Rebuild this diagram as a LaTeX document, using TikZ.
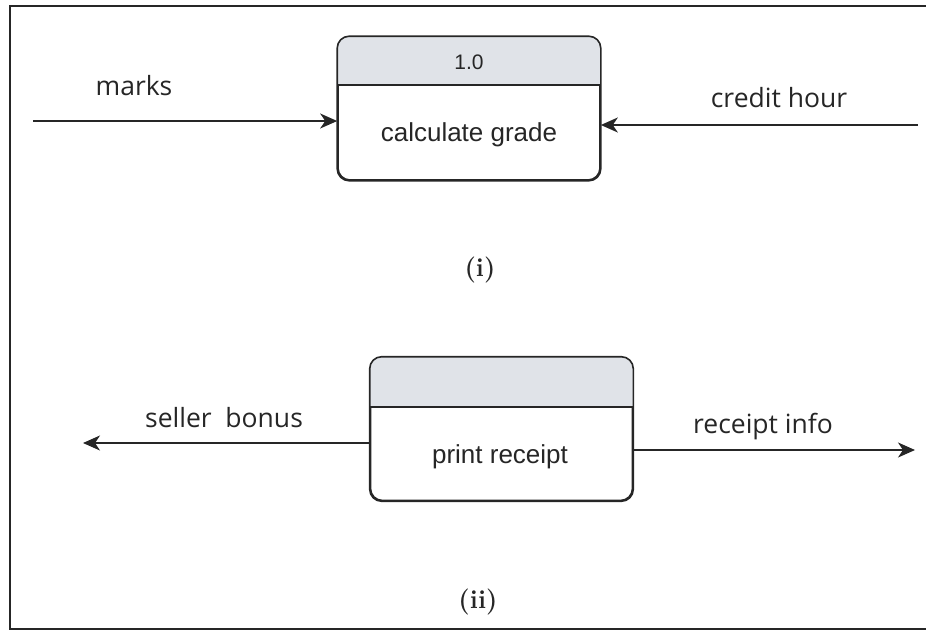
\documentclass[tikz,border=0pt]{standalone}
\usepackage{fontspec}
\setmainfont{Latin Modern Roman}
\newfontfamily\boxfont{Liberation Sans}
\newfontfamily\labfont{Open Sans}
\usetikzlibrary{arrows.meta}
\definecolor{headgray}{HTML}{E0E3E8}
\definecolor{inkc}{HTML}{262626}
\tikzset{
  procbox/.style={draw=inkc, line width=1.6pt, rounded corners=12pt, fill=white,
    minimum width=262pt, minimum height=143pt, inner sep=0pt},
  boxtext/.style={font=\boxfont\fontsize{26}{31}\selectfont, text=inkc, inner sep=0pt},
  numtext/.style={font=\boxfont\fontsize{21}{25}\selectfont, text=inkc, inner sep=0pt},
  labtext/.style={font=\labfont\fontsize{26.5}{31}\selectfont, text=inkc, inner sep=0pt},
  captext/.style={font=\bfseries\fontsize{26}{30}\selectfont, text=inkc, inner sep=0pt},
  flow/.style={draw=inkc, line width=1.6pt, -{Stealth[length=17pt, width=15pt, inset=5pt]}},
  framel/.style={draw=inkc, line width=1.8pt}
}
\begin{document}
\begin{tikzpicture}[x=1pt, y=-1pt]
\useasboundingbox (0,0) rectangle (926,632);
% outer frame (right side cut off)
\coordinate (ftr) at (926,6);
\coordinate (ftl) at (10,6);
\coordinate (fbl) at (10,629);
\coordinate (fbr) at (926,629);
\draw[framel] (ftr) -- (ftl) -- (fbl) -- (fbr);

% process 1.0
\node[procbox] (p1) at (469,108.5) {};
\coordinate (p1div) at (469,85);
\begin{scope}
  \clip[rounded corners=12pt] (p1.south west) rectangle (p1.north east);
  \fill[headgray] (p1.north west) rectangle (p1.east |- p1div);
\end{scope}
\draw[inkc, line width=1.6pt] (p1.west |- p1div) -- (p1.east |- p1div);
\draw[inkc, line width=1.6pt, rounded corners=12pt] (p1.south west) rectangle (p1.north east);
\node[numtext] (n1) at (469,62) {1.0};
\node[boxtext] (t1) at (469,135) {calculate grade};

% flows of process 1.0
\coordinate (ms) at (33,121);
\draw[flow] (ms) -- (p1.west |- ms);
\node[labtext] (lm) at (134,86) {marks};
\coordinate (cs) at (918,125);
\draw[flow] (cs) -- (p1.east |- cs);
\node[labtext] (lc) at (779,98) {credit hour};

\node[captext] (c1) at (480,270) {(i)};

% process print receipt
\node[procbox] (p2) at (501.5,429) {};
\coordinate (p2div) at (501.5,407);
\begin{scope}
  \clip[rounded corners=12pt] (p2.south west) rectangle (p2.north east);
  \fill[headgray] (p2.north west) rectangle (p2.east |- p2div);
\end{scope}
\draw[inkc, line width=1.6pt] (p2.west |- p2div) -- (p2.east |- p2div);
\draw[inkc, line width=1.6pt, rounded corners=12pt] (p2.south west) rectangle (p2.north east);
\node[boxtext] (t2) at (500,457) {print receipt};

% flows of print receipt
\coordinate (se) at (83,443);
\draw[flow] (p2.west |- se) -- (se);
\node[labtext] (ls) at (224,418) {seller\ \ bonus};
\coordinate (re) at (915,450);
\draw[flow] (p2.east |- re) -- (re);
\node[labtext] (lr) at (763,427) {receipt info};

\node[captext] (c2) at (478,602) {(ii)};
\end{tikzpicture}
\end{document}
